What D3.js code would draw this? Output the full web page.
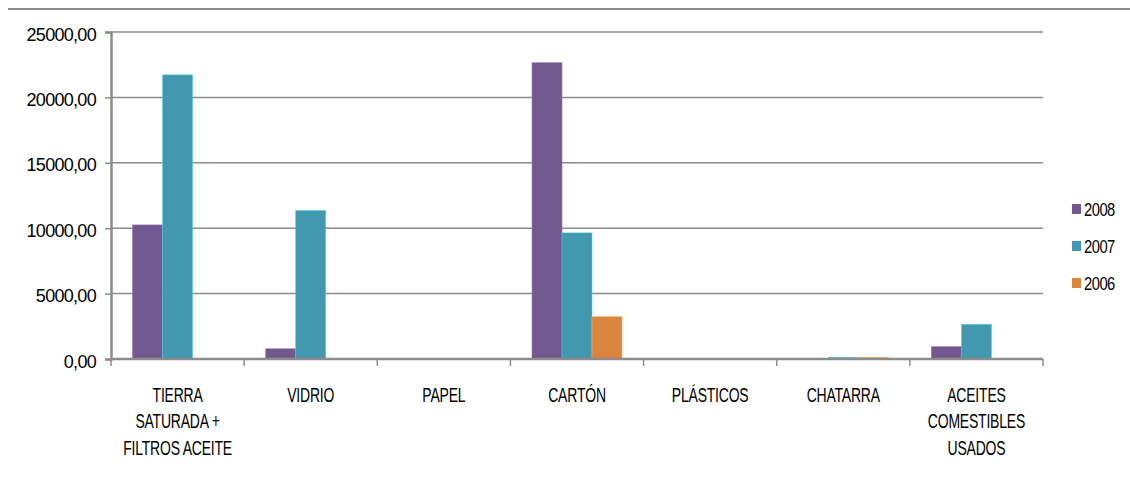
<!DOCTYPE html>
<html>
<head>
<meta charset="utf-8">
<script src="https://cdn.jsdelivr.net/npm/d3@7"></script>
<style>
  body { margin: 0; background: #fff; }
  text { font-family: "Liberation Sans", Arial, sans-serif; fill: #000; }
</style>
</head>
<body>
<div id="chart"></div>
<script>
const categories = [
  ['TIERRA', 'SATURADA +', 'FILTROS ACEITE'],
  ['VIDRIO'],
  ['PAPEL'],
  ['CARTÓN'],
  ['PLÁSTICOS'],
  ['CHATARRA'],
  ['ACEITES', 'COMESTIBLES', 'USADOS']
]
const seriesNames = ['2008', '2007', '2006']
const values2008 = [10250, 780, 0, 22650, 0, 0, 940]
const values2007 = [21720, 11350, 0, 9640, 0, 130, 2650]
const values2006 = [0, 0, 0, 3230, 0, 120, 0]
const yTicks = [0, 5000, 10000, 15000, 20000, 25000]
const colors = ['#71588f', '#4198af', '#db843d']

const W = 1130, H = 477
const margin = { left: 111, right: 87, top: 32, bottom: 118 }
const svg = d3.select('#chart').append('svg').attr('width', W).attr('height', H)

// top border line
svg.append('line')
  .attr('x1', 8).attr('x2', W).attr('y1', 9).attr('y2', 9)
  .attr('stroke', '#8c8c8c').attr('stroke-width', 2)

const x0 = d3.scaleBand()
  .domain(d3.range(categories.length))
  .range([margin.left, W - margin.right])
  .paddingInner(0).paddingOuter(0)
const x1 = d3.scaleBand()
  .domain(d3.range(seriesNames.length))
  .range([0, x0.bandwidth()])
  .paddingInner(0).paddingOuter(0.72)
const y = d3.scaleLinear().domain([0, 25000]).range([H - margin.bottom, margin.top])

const fmt = (v) => d3.format('.2f')(v).replace('.', ',')

// grid
svg.append('g')
  .selectAll('line')
  .data(yTicks.filter((t) => t > 0))
  .enter()
  .append('line')
  .attr('x1', margin.left).attr('x2', W - margin.right)
  .attr('y1', (d) => y(d)).attr('y2', (d) => y(d))
  .attr('stroke', '#8c8c8c').attr('stroke-width', 1.5)

// bars
const series = [values2008, values2007, values2006]
const g = svg.append('g')
series.forEach((vals, si) => {
  g.selectAll('rect.s' + si)
    .data(vals)
    .enter()
    .append('rect')
    .attr('class', 's' + si)
    .attr('x', (d, i) => x0(i) + x1(si))
    .attr('width', x1.bandwidth())
    .attr('y', (d) => y(d))
    .attr('height', (d) => y(0) - y(d))
    .attr('fill', colors[si])
    .attr('stroke', d3.color(colors[si]).brighter(0.8))
    .attr('stroke-width', 0.6)
})

// y axis
const yAxis = d3.axisLeft(y).tickValues(yTicks).tickFormat(fmt).tickSize(6).tickPadding(9)
const ya = svg.append('g').attr('transform', 'translate(' + margin.left + ',0)').call(yAxis)
ya.select('.domain').attr('stroke', '#8c8c8c').attr('stroke-width', 2.5)
ya.selectAll('.tick line').attr('stroke', '#8c8c8c').attr('stroke-width', 1.5)
ya.selectAll('.tick text').attr('font-size', 18).attr('letter-spacing', -0.7)
  .attr('dy', '0.45em').attr('font-family', '"Liberation Sans", Arial, sans-serif')

// x axis
const tickPos = d3.range(categories.length + 1).map((i) => margin.left + i * x0.bandwidth())
svg.append('line')
  .attr('x1', margin.left).attr('x2', W - margin.right)
  .attr('y1', y(0)).attr('y2', y(0))
  .attr('stroke', '#8c8c8c').attr('stroke-width', 2.5)
svg.append('g')
  .selectAll('line')
  .data(tickPos)
  .enter()
  .append('line')
  .attr('x1', (d) => d).attr('x2', (d) => d)
  .attr('y1', y(0)).attr('y2', y(0) + 7)
  .attr('stroke', '#8c8c8c').attr('stroke-width', 1.5)

// category labels, condensed horizontally like the original narrow font
const labels = svg.append('g')
categories.forEach((lines, i) => {
  const cx = x0(i) + x0.bandwidth() / 2
  const t = labels.append('g')
    .attr('transform', 'translate(' + cx + ',0) scale(0.7,1)')
    .append('text')
    .attr('text-anchor', 'middle')
    .attr('font-size', 20)
    .attr('letter-spacing', -0.3)
  lines.forEach((ln, k) => {
    t.append('tspan')
      .attr('x', 0)
      .attr('y', 402 + k * 26.3)
      .text(ln)
  })
})

// legend
const leg = svg.append('g').attr('transform', 'translate(1072,204)')
seriesNames.forEach((name, i) => {
  leg.append('rect').attr('x', 0).attr('y', i * 37).attr('width', 9).attr('height', 10).attr('fill', colors[i])
  leg.append('g')
    .attr('transform', 'translate(12,' + (i * 37 + 12) + ') scale(0.82,1)')
    .append('text')
    .attr('font-size', 18)
    .attr('letter-spacing', -0.6)
    .text(name)
})
</script>
</body>
</html>
